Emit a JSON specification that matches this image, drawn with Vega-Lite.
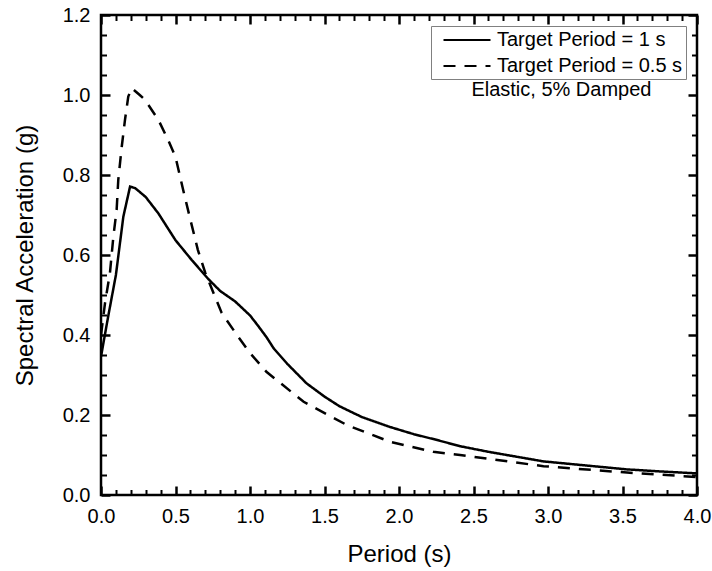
{
  "$schema": "https://vega.github.io/schema/vega-lite/v6.json",
  "width": 596,
  "height": 480,
  "autosize": {"type": "none"},
  "padding": {"left": 101, "top": 15, "right": 15, "bottom": 76},
  "background": "white",
  "config": {
    "view": {"stroke": "black", "strokeWidth": 2.5},
    "font": "Liberation Sans",
    "axis": {
      "domain": false,
      "grid": false,
      "labelColor": "black",
      "titleColor": "black",
      "labelFont": "Liberation Sans",
      "titleFont": "Liberation Sans",
      "labelFontSize": 20,
      "titleFontSize": 24,
      "titleFontWeight": "normal",
      "tickColor": "black",
      "labelOverlap": false,
      "labelFlush": false
    }
  },
  "data": {
    "values": [
      {"series": "Target Period = 1 s", "period": 0.0, "sa": 0.346},
      {"series": "Target Period = 1 s", "period": 0.05, "sa": 0.45},
      {"series": "Target Period = 1 s", "period": 0.10, "sa": 0.55},
      {"series": "Target Period = 1 s", "period": 0.15, "sa": 0.696},
      {"series": "Target Period = 1 s", "period": 0.195, "sa": 0.771},
      {"series": "Target Period = 1 s", "period": 0.23, "sa": 0.767},
      {"series": "Target Period = 1 s", "period": 0.30, "sa": 0.745},
      {"series": "Target Period = 1 s", "period": 0.385, "sa": 0.704},
      {"series": "Target Period = 1 s", "period": 0.50, "sa": 0.637},
      {"series": "Target Period = 1 s", "period": 0.61, "sa": 0.587},
      {"series": "Target Period = 1 s", "period": 0.72, "sa": 0.540},
      {"series": "Target Period = 1 s", "period": 0.80, "sa": 0.510},
      {"series": "Target Period = 1 s", "period": 0.90, "sa": 0.484},
      {"series": "Target Period = 1 s", "period": 1.00, "sa": 0.449},
      {"series": "Target Period = 1 s", "period": 1.05, "sa": 0.425},
      {"series": "Target Period = 1 s", "period": 1.11, "sa": 0.395},
      {"series": "Target Period = 1 s", "period": 1.16, "sa": 0.366},
      {"series": "Target Period = 1 s", "period": 1.25, "sa": 0.328},
      {"series": "Target Period = 1 s", "period": 1.38, "sa": 0.279},
      {"series": "Target Period = 1 s", "period": 1.50, "sa": 0.246},
      {"series": "Target Period = 1 s", "period": 1.60, "sa": 0.222},
      {"series": "Target Period = 1 s", "period": 1.75, "sa": 0.195},
      {"series": "Target Period = 1 s", "period": 1.94, "sa": 0.170},
      {"series": "Target Period = 1 s", "period": 2.10, "sa": 0.152},
      {"series": "Target Period = 1 s", "period": 2.25, "sa": 0.138},
      {"series": "Target Period = 1 s", "period": 2.41, "sa": 0.122},
      {"series": "Target Period = 1 s", "period": 2.60, "sa": 0.108},
      {"series": "Target Period = 1 s", "period": 2.80, "sa": 0.095},
      {"series": "Target Period = 1 s", "period": 2.97, "sa": 0.084},
      {"series": "Target Period = 1 s", "period": 3.25, "sa": 0.074},
      {"series": "Target Period = 1 s", "period": 3.53, "sa": 0.064},
      {"series": "Target Period = 1 s", "period": 3.75, "sa": 0.059},
      {"series": "Target Period = 1 s", "period": 4.00, "sa": 0.054},
      {"series": "Target Period = 0.5 s", "period": 0.0, "sa": 0.40},
      {"series": "Target Period = 0.5 s", "period": 0.027, "sa": 0.48},
      {"series": "Target Period = 0.5 s", "period": 0.06, "sa": 0.555},
      {"series": "Target Period = 0.5 s", "period": 0.083, "sa": 0.646},
      {"series": "Target Period = 0.5 s", "period": 0.105, "sa": 0.713},
      {"series": "Target Period = 0.5 s", "period": 0.116, "sa": 0.788},
      {"series": "Target Period = 0.5 s", "period": 0.139, "sa": 0.87},
      {"series": "Target Period = 0.5 s", "period": 0.161, "sa": 0.938},
      {"series": "Target Period = 0.5 s", "period": 0.183, "sa": 0.996},
      {"series": "Target Period = 0.5 s", "period": 0.206, "sa": 1.017},
      {"series": "Target Period = 0.5 s", "period": 0.26, "sa": 1.0},
      {"series": "Target Period = 0.5 s", "period": 0.295, "sa": 0.988},
      {"series": "Target Period = 0.5 s", "period": 0.385, "sa": 0.938},
      {"series": "Target Period = 0.5 s", "period": 0.45, "sa": 0.888},
      {"series": "Target Period = 0.5 s", "period": 0.50, "sa": 0.845},
      {"series": "Target Period = 0.5 s", "period": 0.55, "sa": 0.765},
      {"series": "Target Period = 0.5 s", "period": 0.60, "sa": 0.688},
      {"series": "Target Period = 0.5 s", "period": 0.65, "sa": 0.613},
      {"series": "Target Period = 0.5 s", "period": 0.70, "sa": 0.555},
      {"series": "Target Period = 0.5 s", "period": 0.72, "sa": 0.537},
      {"series": "Target Period = 0.5 s", "period": 0.81, "sa": 0.455},
      {"series": "Target Period = 0.5 s", "period": 0.92, "sa": 0.396},
      {"series": "Target Period = 0.5 s", "period": 1.00, "sa": 0.355},
      {"series": "Target Period = 0.5 s", "period": 1.11, "sa": 0.308},
      {"series": "Target Period = 0.5 s", "period": 1.36, "sa": 0.233},
      {"series": "Target Period = 0.5 s", "period": 1.65, "sa": 0.175},
      {"series": "Target Period = 0.5 s", "period": 1.94, "sa": 0.133},
      {"series": "Target Period = 0.5 s", "period": 2.23, "sa": 0.108},
      {"series": "Target Period = 0.5 s", "period": 2.41, "sa": 0.100},
      {"series": "Target Period = 0.5 s", "period": 2.97, "sa": 0.072},
      {"series": "Target Period = 0.5 s", "period": 3.53, "sa": 0.056},
      {"series": "Target Period = 0.5 s", "period": 4.00, "sa": 0.045}
    ]
  },
  "layer": [
    {
      "mark": {"type": "line", "color": "black", "strokeWidth": 2.5, "clip": true},
      "encoding": {
        "x": {
          "field": "period", "type": "quantitative",
          "scale": {"domain": [0, 4], "nice": false, "zero": false},
          "axis": {"orient": "bottom", "values": [0, 0.5, 1, 1.5, 2, 2.5, 3, 3.5, 4], "format": ".1f", "ticks": false, "tickSize": 0, "labelPadding": 11, "title": "Period (s)", "titlePadding": 16}
        },
        "y": {
          "field": "sa", "type": "quantitative",
          "scale": {"domain": [0, 1.2], "nice": false, "zero": false},
          "axis": {"orient": "left", "values": [0, 0.2, 0.4, 0.6, 0.8, 1.0, 1.2], "format": ".1f", "ticks": false, "tickSize": 0, "labelPadding": 11, "title": "Spectral Acceleration (g)", "titlePadding": 25}
        },
        "strokeDash": {
          "field": "series", "type": "nominal",
          "scale": {"domain": ["Target Period = 1 s", "Target Period = 0.5 s"], "range": [[1, 0], [12, 9]]},
          "legend": {
            "orient": "top-right", "offset": 11, "title": null,
            "symbolType": "M-2.35,0H2.35", "symbolSize": 400, "symbolStrokeWidth": 2, "symbolStrokeColor": "black",
            "labelFontSize": 20, "labelFont": "Liberation Sans", "labelColor": "black", "labelLimit": 0,
            "strokeColor": "#808080", "fillColor": "white", "padding": 3, "rowPadding": 5,
            "labelOffset": 19, "symbolOffset": 22
          }
        }
      }
    },
    {
      "mark": {"type": "point", "opacity": 0},
      "encoding": {
        "x": {"field": "period", "type": "quantitative", "axis": {"orient": "top", "offset": -480, "values": [0, 0.5, 1, 1.5, 2, 2.5, 3, 3.5, 4], "labels": false, "title": null, "tickSize": 9, "tickWidth": 2.5}},
        "y": {"field": "sa", "type": "quantitative", "axis": {"orient": "right", "offset": -596, "values": [0, 0.2, 0.4, 0.6, 0.8, 1.0, 1.2], "labels": false, "title": null, "tickSize": 9, "tickWidth": 2.5}}
      }
    },
    {
      "mark": {"type": "point", "opacity": 0},
      "encoding": {
        "x": {"field": "period", "type": "quantitative", "axis": {"orient": "top", "offset": -480, "values": [0.1, 0.2, 0.3, 0.4, 0.6, 0.7, 0.8, 0.9, 1.1, 1.2, 1.3, 1.4, 1.6, 1.7, 1.8, 1.9, 2.1, 2.2, 2.3, 2.4, 2.6, 2.7, 2.8, 2.9, 3.1, 3.2, 3.3, 3.4, 3.6, 3.7, 3.8, 3.9], "labels": false, "title": null, "tickSize": 5.5, "tickWidth": 2}},
        "y": {"field": "sa", "type": "quantitative", "axis": {"orient": "right", "offset": -596, "values": [0.05, 0.1, 0.15, 0.25, 0.3, 0.35, 0.45, 0.5, 0.55, 0.65, 0.7, 0.75, 0.85, 0.9, 0.95, 1.05, 1.1, 1.15], "labels": false, "title": null, "tickSize": 5.5, "tickWidth": 2}}
      }
    },
    {
      "mark": {"type": "point", "opacity": 0},
      "encoding": {
        "x": {"field": "period", "type": "quantitative", "axis": {"orient": "bottom", "offset": -480, "values": [0, 0.5, 1, 1.5, 2, 2.5, 3, 3.5, 4], "labels": false, "title": null, "tickSize": 9, "tickWidth": 2.5}},
        "y": {"field": "sa", "type": "quantitative", "axis": {"orient": "left", "offset": -596, "values": [0, 0.2, 0.4, 0.6, 0.8, 1.0, 1.2], "labels": false, "title": null, "tickSize": 9, "tickWidth": 2.5}}
      }
    },
    {
      "mark": {"type": "point", "opacity": 0},
      "encoding": {
        "x": {"field": "period", "type": "quantitative", "axis": {"orient": "bottom", "offset": -480, "values": [0.1, 0.2, 0.3, 0.4, 0.6, 0.7, 0.8, 0.9, 1.1, 1.2, 1.3, 1.4, 1.6, 1.7, 1.8, 1.9, 2.1, 2.2, 2.3, 2.4, 2.6, 2.7, 2.8, 2.9, 3.1, 3.2, 3.3, 3.4, 3.6, 3.7, 3.8, 3.9], "labels": false, "title": null, "tickSize": 5.5, "tickWidth": 2}},
        "y": {"field": "sa", "type": "quantitative", "axis": {"orient": "left", "offset": -596, "values": [0.05, 0.1, 0.15, 0.25, 0.3, 0.35, 0.45, 0.5, 0.55, 0.65, 0.7, 0.75, 0.85, 0.9, 0.95, 1.05, 1.1, 1.15], "labels": false, "title": null, "tickSize": 5.5, "tickWidth": 2}}
      }
    },
    {
      "data": {"values": [{"px": 3.09, "py": 1.012, "note": "Elastic, 5% Damped"}]},
      "mark": {"type": "text", "fontSize": 20, "font": "Liberation Sans", "color": "black", "align": "center", "baseline": "middle"},
      "encoding": {
        "x": {"field": "px", "type": "quantitative", "axis": null},
        "y": {"field": "py", "type": "quantitative", "axis": null},
        "text": {"field": "note", "type": "nominal"}
      }
    }
  ],
  "resolve": {"axis": {"x": "independent", "y": "independent"}}
}
